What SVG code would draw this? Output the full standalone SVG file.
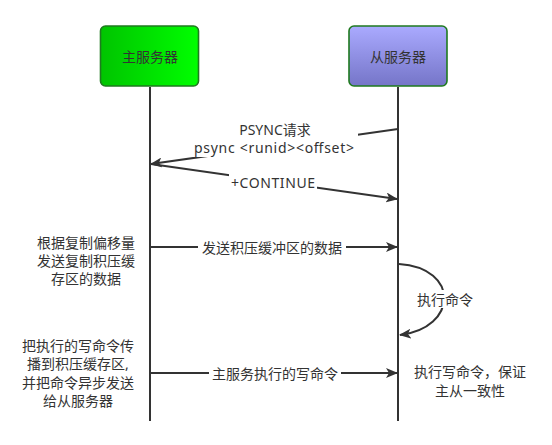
<svg xmlns="http://www.w3.org/2000/svg" width="552" height="445" viewBox="0 0 552 445">
<style>
text{font-family:"Noto Sans","Noto Sans CJK SC",sans-serif;font-size:14px;fill:#333;text-anchor:middle;dominant-baseline:central}
.life{stroke:#333;stroke-width:2;fill:none}
.msg{stroke:#333;stroke-width:2;fill:none;marker-end:url(#ah)}
.lbl{fill:#fff;stroke:none}
.box{stroke:#1f7a1f;stroke-width:1.6}
</style>
<defs>
<linearGradient id="gM" x1="0" y1="0" x2="1" y2="0"><stop offset="0" stop-color="#00c400"/><stop offset="1" stop-color="#00ff00"/></linearGradient>
<linearGradient id="gS" x1="0" y1="0" x2="0" y2="1"><stop offset="0" stop-color="#aaaaff"/><stop offset="1" stop-color="#7575c8"/></linearGradient>
<marker id="ah" markerWidth="12" markerHeight="10" refX="11" refY="5" orient="auto" markerUnits="userSpaceOnUse"><path d="M0,0 L12,5 L0,10 L3,5 Z" fill="#333"/></marker>
</defs>
<g id="master">
<rect class="box" x="100.5" y="26" width="98" height="60" rx="5" fill="url(#gM)"/>
<text x="150" y="56">主服务器</text>
<line class="life" x1="150" y1="87" x2="150" y2="421"/>
</g>
<g id="slave">
<rect class="box" x="349" y="26" width="98" height="60" rx="5" fill="url(#gS)"/>
<text x="398" y="56">从服务器</text>
<line class="life" x1="398" y1="87" x2="398" y2="421"/>
</g>
<g id="connectors">
<line class="msg" x1="398" y1="129" x2="151" y2="164"/>
<rect class="lbl" x="192" y="119" width="166" height="38"/>
<text x="275" y="129">PSYNC请求</text>
<text x="274" y="147" textLength="160" lengthAdjust="spacing">psync &lt;runid&gt;&lt;offset&gt;</text>
<line class="msg" x1="151" y1="164" x2="397" y2="199"/>
<rect class="lbl" x="229" y="174" width="88" height="17"/>
<text x="273" y="182" textLength="84" lengthAdjust="spacing">+CONTINUE</text>
<line class="msg" x1="151" y1="247" x2="397" y2="247"/>
<rect class="lbl" x="198" y="238" width="148" height="18"/>
<text x="272" y="247">发送积压缓冲区的数据</text>
<path class="msg" d="M399,264 C460,268 458,328 400,335"/>
<rect class="lbl" x="413" y="290" width="64" height="18"/>
<text x="445" y="299">执行命令</text>
<line class="msg" x1="151" y1="373" x2="397" y2="373"/>
<rect class="lbl" x="209" y="364" width="132" height="18"/>
<text x="275" y="373">主服务执行的写命令</text>
</g>
<g id="notes">
<text x="86" y="242">根据复制偏移量</text>
<text x="86" y="260">发送复制积压缓</text>
<text x="86" y="278">存区的数据</text>
<text x="78" y="345">把执行的写命令传</text>
<text x="78" y="363">播到积压缓存区,</text>
<text x="78" y="382">并把命令异步发送</text>
<text x="78" y="400">给从服务器</text>
<text x="470" y="371">执行写命令，保证</text>
<text x="470" y="390">主从一致性</text>
</g>
</svg>
